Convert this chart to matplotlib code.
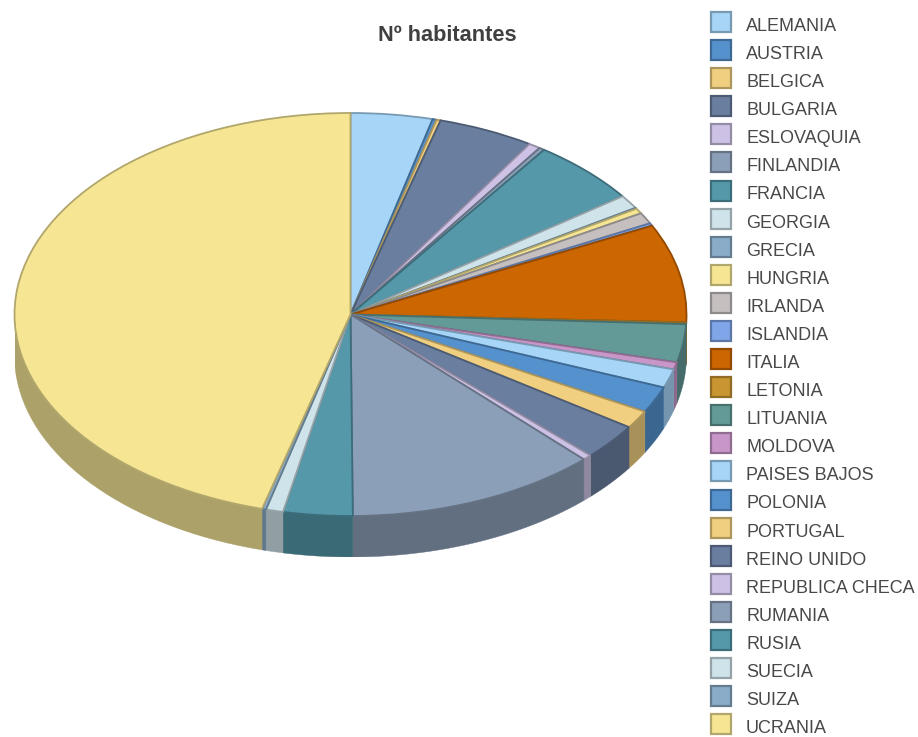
import numpy as np
import matplotlib
matplotlib.use('Agg')
import matplotlib.pyplot as plt
from matplotlib.colors import to_rgb
from matplotlib.legend_handler import HandlerPatch
from matplotlib.patches import Patch

plt.rcParams['font.family'] = ['Liberation Sans', 'DejaVu Sans']

paises = ['ALEMANIA', 'AUSTRIA', 'BELGICA', 'BULGARIA', 'ESLOVAQUIA', 'FINLANDIA', 'FRANCIA',
          'GEORGIA', 'GRECIA', 'HUNGRIA', 'IRLANDA', 'ISLANDIA', 'ITALIA', 'LETONIA', 'LITUANIA',
          'MOLDOVA', 'PAISES BAJOS', 'POLONIA', 'PORTUGAL', 'REINO UNIDO', 'REPUBLICA CHECA',
          'RUMANIA', 'RUSIA', 'SUECIA', 'SUIZA', 'UCRANIA']
# cuota de cada pais
habitantes = [3.93, 0.19, 0.20, 4.62, 0.57, 0.26, 5.25, 1.10, 0.08, 0.42, 0.90, 0.21, 7.89,
              0.14, 3.05, 0.58, 1.50, 2.11, 1.44, 2.89, 0.44, 12.11, 3.33, 0.83, 0.19, 45.75]
colores = ['#a6d5f7', '#5592cd', '#f0d080', '#6a7fa0', '#cdc2e5', '#8c9fb8', '#5598aa',
           '#cfe3ea', '#8aacc8', '#f6e694', '#c5bfbf', '#80a5e8', '#cc6600', '#c89530',
           '#639a98', '#c896c8', '#a6d5f7', '#5592cd', '#f0d080', '#6a7fa0', '#cdc2e5',
           '#8c9fb8', '#5598aa', '#cfe3ea', '#8aacc8', '#f6e694']

W, H = 918, 737
cx, cy, rx, ry = 350.5, 314.5, 336, 201.5
grosor = 41 / ry


def oscuro(color, f):
    return tuple(c * f for c in to_rgb(color))


fig = plt.figure(figsize=(W / 100, H / 100), dpi=100)
ax = fig.add_axes([(cx - rx) / W, 1 - (cy + ry + 41) / H, 2 * rx / W, (2 * ry + 41) / H])

bordes = [oscuro(c, 0.72) for c in colores]
wedges, _ = ax.pie(habitantes, colors=colores, startangle=90, counterclock=False, radius=1,
                   wedgeprops={'linewidth': 1.3, 'zorder': 3})
for w, b in zip(wedges, bordes):
    w.set_edgecolor(b)
ax.set_aspect('auto')
ax.set_xlim(-1, 1)
ax.set_ylim(-1 - grosor, 1)

# pared lateral de la tarta
for w, c in zip(wedges, colores):
    t = np.radians(np.linspace(w.theta1, w.theta2, 80))
    t = t[np.sin(t) <= 0.001]
    if len(t) < 2:
        continue
    x = np.cos(t)
    y = np.sin(t)
    ax.fill(np.r_[x, x[::-1]], np.r_[y, y[::-1] - grosor], color=oscuro(c, 0.7), lw=0.3, zorder=2)

fig.text(447.5 / W, 1 - 35.5 / H, 'Nº habitantes', ha='center', va='center',
         fontsize=15.7, fontweight='bold', color='#404040')

fs = 12.95
px = fs * 100 / 72
handles = [Patch(facecolor=c, edgecolor=oscuro(c, 0.72), linewidth=1.6) for c in colores]
# los cuadros van un poco mas altos que el texto
fig.legend(handles, paises, loc='upper left', bbox_to_anchor=(711 / W, 1 - 12 / H), frameon=False,
           fontsize=fs, labelcolor='#484848', borderpad=0, borderaxespad=0,
           handlelength=20 / px, handleheight=1.87, handletextpad=15 / px,
           labelspacing=1.82 / px, handler_map={Patch: HandlerPatch(ypad=0.348)})

fig.savefig('out.png', dpi=100)
